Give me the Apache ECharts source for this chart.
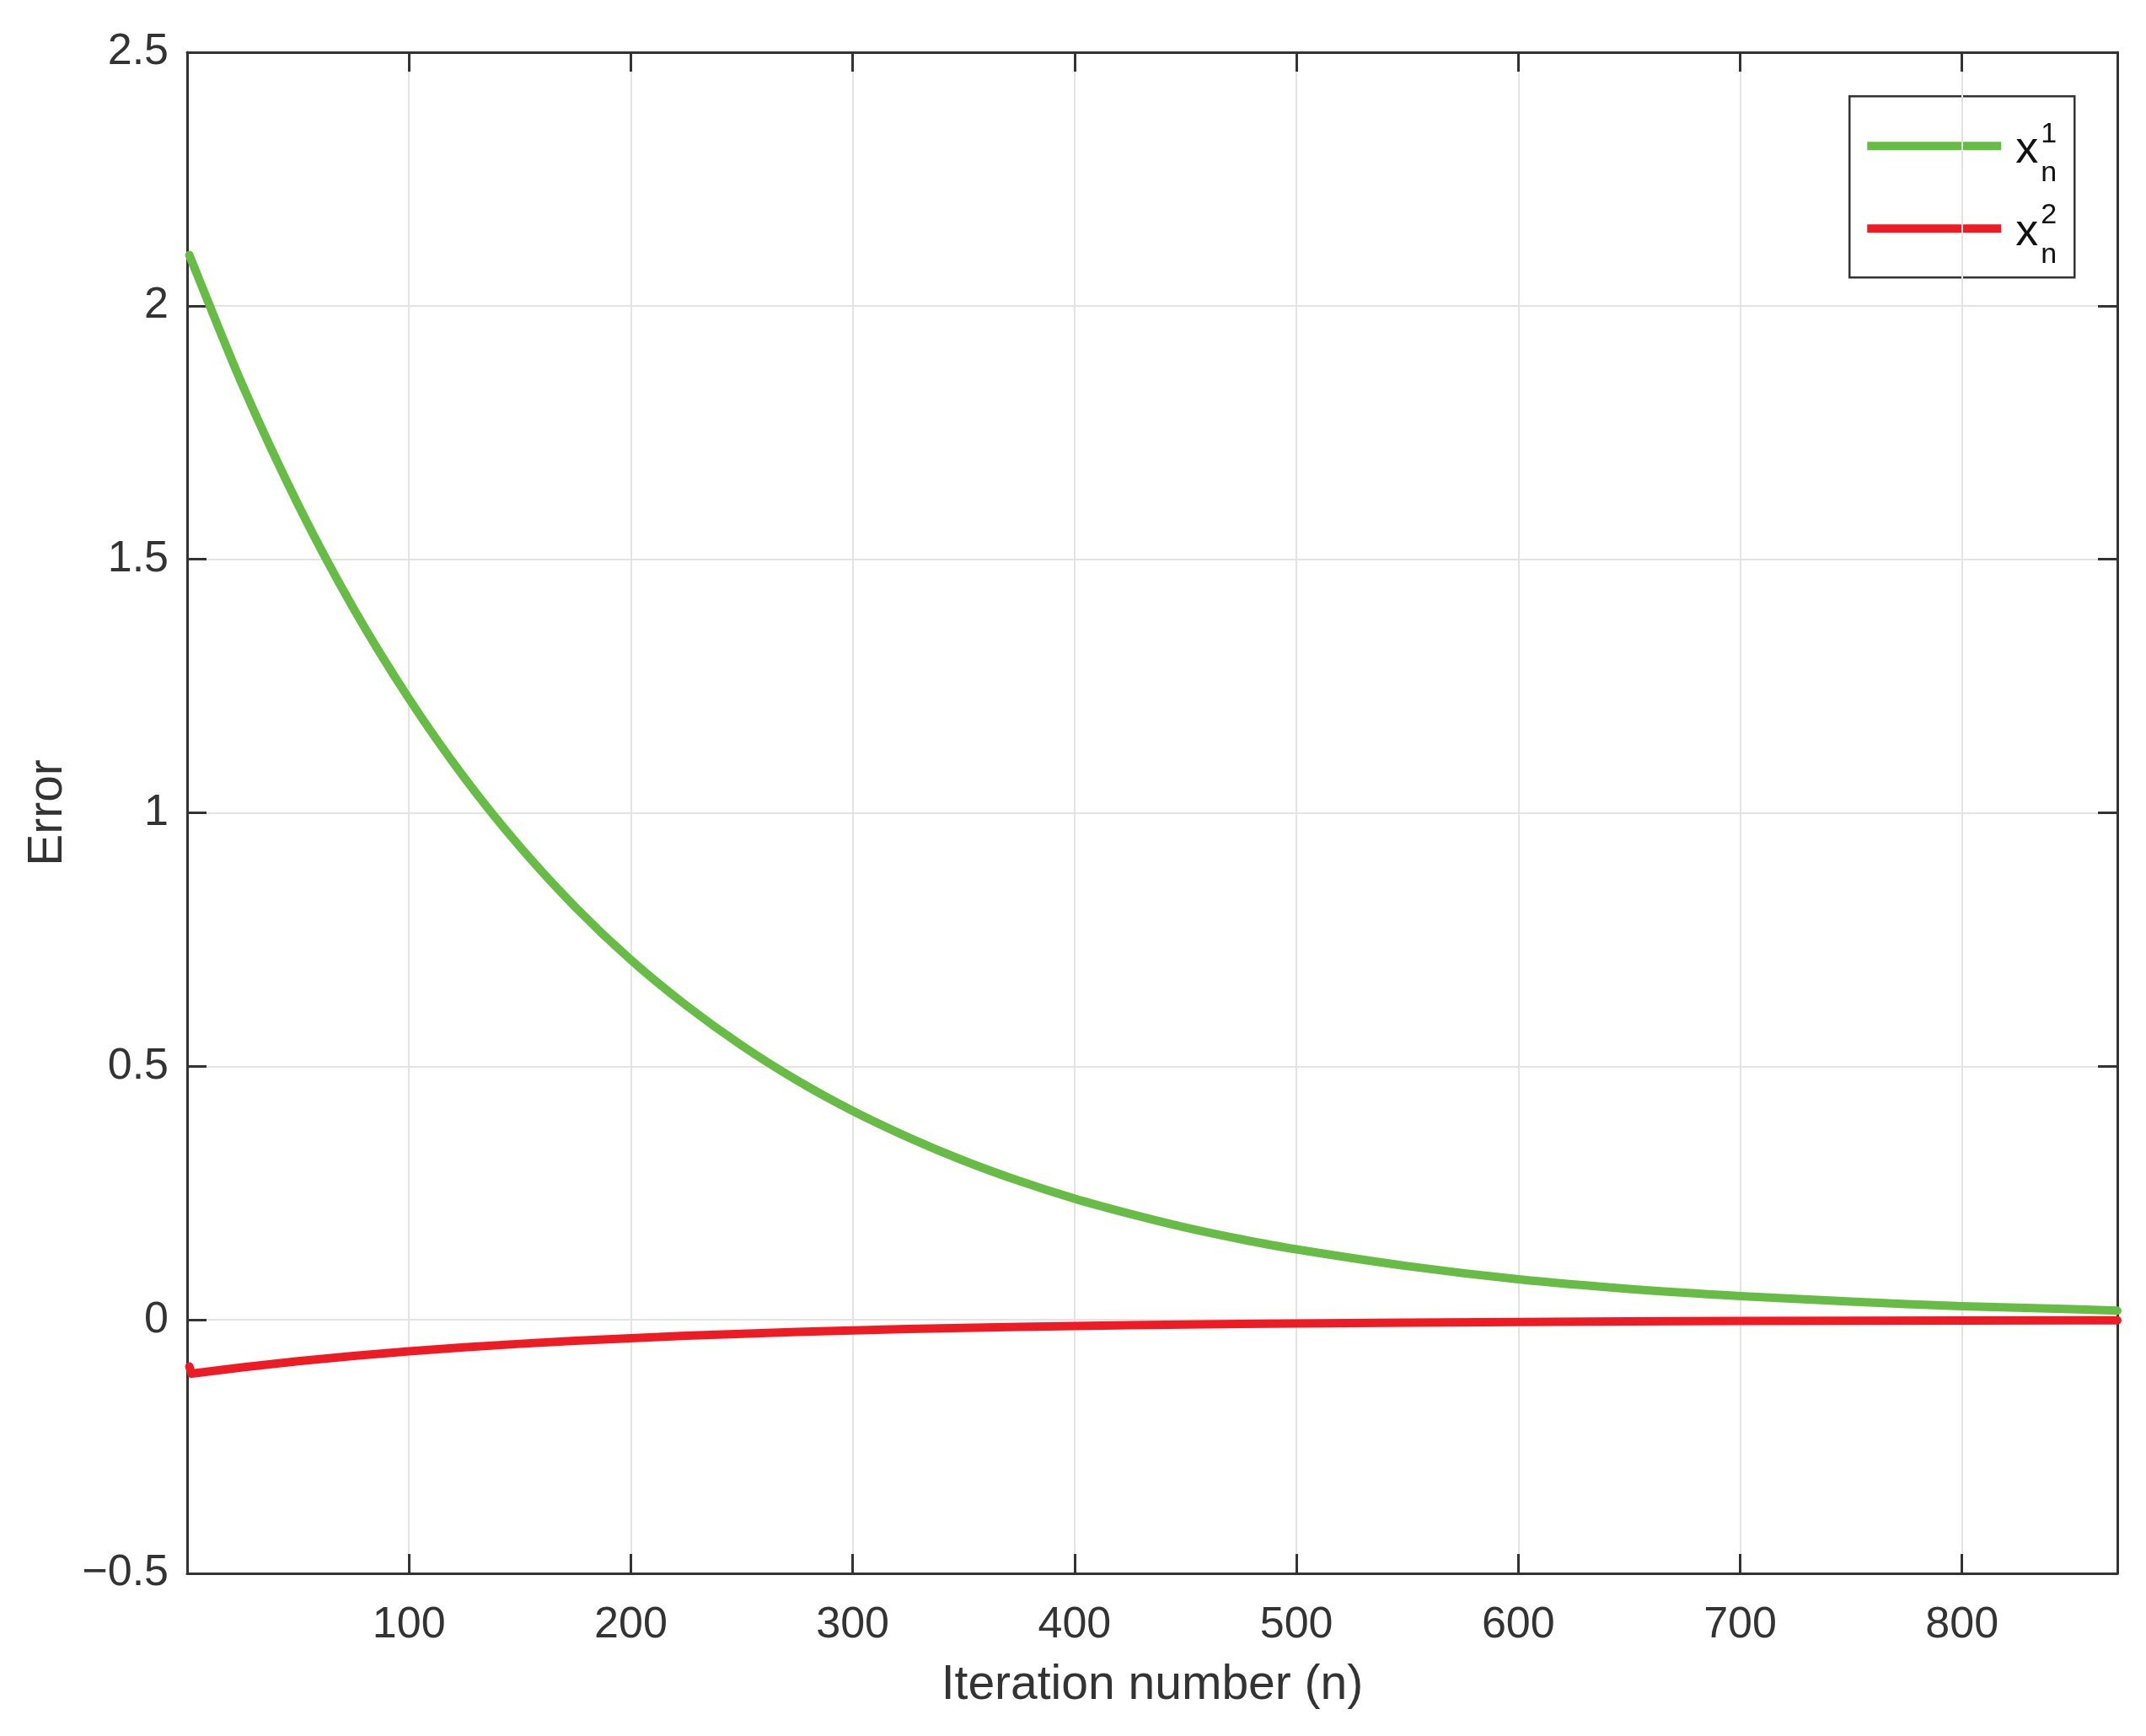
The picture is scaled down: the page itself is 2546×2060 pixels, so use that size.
<!DOCTYPE html>
<html>
<head>
<meta charset="utf-8">
<script src="https://cdn.jsdelivr.net/npm/echarts@6/dist/echarts.min.js"></script>
<style>
html,body{margin:0;padding:0;background:#fff;}
#chart{width:2546px;height:2060px;}
</style>
</head>
<body>
<div id="chart"></div>
<script>
// ---- data ----
const iterations = [1,2,25,50,75,100,125,150,175,200,225,250,275,300,325,350,375,400,425,450,475,500,550,600,650,700,750,800,850,870];
const errorX1 = [2.100,2.089,1.843,1.608,1.403,1.225,1.069,0.933,0.814,0.710,0.620,0.541,0.472,0.412,0.360,0.314,0.274,0.239,0.209,0.182,0.159,0.139,0.106,0.080,0.061,0.047,0.036,0.027,0.021,0.018];
const errorX2 = [-0.092,-0.106,-0.0935,-0.0816,-0.0712,-0.0622,-0.0542,-0.0473,-0.0413,-0.0361,-0.0315,-0.0275,-0.0240,-0.0209,-0.0182,-0.0159,-0.0139,-0.0121,-0.0106,-0.0092,-0.0081,-0.0070,-0.0054,-0.0041,-0.0031,-0.0024,-0.0018,-0.0014,-0.0010,-0.0009];
const seriesNames = ['x_n^1','x_n^2'];
const xTickLabels = ['100','200','300','400','500','600','700','800'];
const yTickLabels = ['\u22120.5','0','0.5','1','1.5','2','2.5'];

const FONT = 'Liberation Sans, Arial, Helvetica, sans-serif';
const AX = '#333333';
const GREEN = '#67bc45';
const RED = '#ed1c24';

const pairs = (xs, ys) => xs.map((x, i) => [x, ys[i]]);

const chart = echarts.init(document.getElementById('chart'), null, {renderer: 'canvas'});

const baseX = {
  type: 'value', min: 0, max: 870, interval: 100,
  axisLine: {show: true, onZero: false, lineStyle: {color: AX, width: 3}},
  axisTick: {show: true, inside: true, length: 23, lineStyle: {color: AX, width: 3}},
};
const baseY = {
  type: 'value', min: -0.5, max: 2.5, interval: 0.5,
  axisLine: {show: true, onZero: false, lineStyle: {color: AX, width: 3}},
  axisTick: {show: true, inside: true, length: 23, lineStyle: {color: AX, width: 3}},
};

const option = {
  backgroundColor: '#fff',
  animation: false,
  grid: {left: 222, right: 34, top: 62, bottom: 193, containLabel: false},
  xAxis: [
    Object.assign({}, baseX, {
      position: 'bottom',
      name: 'Iteration number (n)', nameLocation: 'middle', nameGap: 105,
      nameTextStyle: {fontFamily: FONT, fontSize: 57, color: AX},
      axisLabel: {
        show: true, margin: 36, fontFamily: FONT, fontSize: 52, color: AX,
        showMinLabel: true, showMaxLabel: true,
        formatter: v => { const s = String(Math.round(v)); return xTickLabels.indexOf(s) >= 0 ? s : ''; }
      },
      splitLine: {show: true, lineStyle: {color: '#e3e3e3', width: 2}}
    }),
    Object.assign({}, baseX, {
      position: 'top', axisLabel: {show: false}, splitLine: {show: false}
    })
  ],
  yAxis: [
    Object.assign({}, baseY, {
      position: 'left',
      name: 'Error', nameLocation: 'middle', nameGap: 136, nameRotate: 90,
      nameTextStyle: {fontFamily: FONT, fontSize: 57, color: AX},
      axisLabel: {
        show: true, margin: 22, fontFamily: FONT, fontSize: 52, color: AX,
        formatter: v => {
          const idx = Math.round((v + 0.5) / 0.5);
          return yTickLabels[idx] !== undefined ? yTickLabels[idx] : '';
        }
      },
      splitLine: {show: true, lineStyle: {color: '#e3e3e3', width: 2}}
    }),
    Object.assign({}, baseY, {
      position: 'right', axisLabel: {show: false}, splitLine: {show: false}
    })
  ],
  legend: {show: false},
  series: [
    {
      name: seriesNames[0], type: 'line', xAxisIndex: 0, yAxisIndex: 0,
      data: pairs(iterations, errorX1), showSymbol: false, smooth: 0.3,
      lineStyle: {color: GREEN, width: 10, cap: 'round', join: 'round'}, itemStyle: {color: GREEN}, z: 3
    },
    {
      name: seriesNames[1], type: 'line', xAxisIndex: 0, yAxisIndex: 0,
      data: pairs(iterations, errorX2), showSymbol: false, smooth: false,
      lineStyle: {color: RED, width: 10, cap: 'round', join: 'round'}, itemStyle: {color: RED}, z: 3
    }
  ],
  graphic: [
    {
      type: 'group', left: 2193, top: 113, z: 100,
      children: [
        {type: 'rect', shape: {x: 0, y: 0, width: 267, height: 215},
         style: {fill: '#fff', stroke: AX, lineWidth: 2.5}},
        {type: 'line', shape: {x1: 21, y1: 59, x2: 180, y2: 59},
         style: {stroke: GREEN, lineWidth: 10}},
        {type: 'line', shape: {x1: 21, y1: 157, x2: 180, y2: 157},
         style: {stroke: RED, lineWidth: 10}},
        {type: 'text', x: 197, y: 64, style: {text: 'x', font: '54px ' + FONT, fill: '#111', verticalAlign: 'middle', align: 'left'}},
        {type: 'text', x: 227, y: 45, style: {text: '1', font: '34px ' + FONT, fill: '#111', verticalAlign: 'middle', align: 'left'}},
        {type: 'text', x: 227, y: 91, style: {text: 'n', font: '34px ' + FONT, fill: '#111', verticalAlign: 'middle', align: 'left'}},
        {type: 'text', x: 197, y: 162, style: {text: 'x', font: '54px ' + FONT, fill: '#111', verticalAlign: 'middle', align: 'left'}},
        {type: 'text', x: 227, y: 141, style: {text: '2', font: '34px ' + FONT, fill: '#111', verticalAlign: 'middle', align: 'left'}},
        {type: 'text', x: 227, y: 188, style: {text: 'n', font: '34px ' + FONT, fill: '#111', verticalAlign: 'middle', align: 'left'}}
      ]
    }
  ]
};
chart.setOption(option);
</script>
</body>
</html>
